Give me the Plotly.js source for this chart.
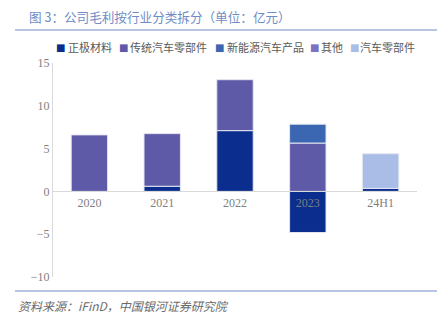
<!DOCTYPE html>
<html>
<head>
<meta charset="utf-8">
<script src="https://cdn.plot.ly/plotly-3.0.1.min.js"></script>
<style>html,body{margin:0;padding:0;background:#fff;}#chart{width:437px;height:322px;}</style>
</head>
<body>
<div id="chart"></div>
<script>
const categories = ['2020', '2021', '2022', '2023', '24H1'];
const seriesNames = ['正极材料', '传统汽车零部件', '新能源汽车产品', '其他', '汽车零部件'];
const cathode = [null, 0.6, 7.1, -4.8, 0.35];
const traditionalParts = [6.6, 6.15, 5.95, 5.65, null];
const nevProducts = [null, null, null, 2.2, null];
const others = [null, null, null, null, null];
const autoParts = [null, null, null, null, 4.05];
const yTicks = [-10, -5, 0, 5, 10, 15];
const chartTitle = '图 3：公司毛利按行业分类拆分（单位：亿元）';
const sourceNote = '资料来源：iFinD，中国银河证券研究院';

const seriesValues = [cathode, traditionalParts, nevProducts, others, autoParts];
const colors = ['#0b2e8e', '#5f5aa8', '#3b66b1', '#7d72c2', '#a9bde6'];
const legendSymbolX = [55, 118, 214, 309, 349];
const legendTextX = [66, 128, 225, 319, 358];

const L = 53, R = 20, T = 63, B = 45, W = 437, H = 322;
const pw = W - L - R, ph = H - T - B;
const px2x = p => (p - L) / pw;
const py2y = p => (H - B - p) / ph;

const traces = seriesValues.map((vals, i) => ({
  type: 'bar',
  name: seriesNames[i],
  x: categories,
  y: vals,
  marker: {color: colors[i], line: {color: '#e3e6f1', width: 1}},
  showlegend: false,
  hoverinfo: 'none'
}));

const cjk = 'Noto Sans CJK SC, sans-serif';
const annotations = [
  {text: chartTitle, xref: 'paper', yref: 'paper', x: px2x(27), y: py2y(16), xanchor: 'left', yanchor: 'middle', showarrow: false,
   font: {family: cjk, size: 12.6, color: '#6f8cc7'}},
  {text: sourceNote, xref: 'paper', yref: 'paper', x: px2x(16), y: py2y(305), xanchor: 'left', yanchor: 'middle', showarrow: false,
   font: {family: cjk, size: 12, color: '#6a6a6a', style: 'italic'}}
];
seriesNames.forEach((name, i) => {
  annotations.push({text: '■', xref: 'paper', yref: 'paper', x: px2x(legendSymbolX[i] - 1), y: py2y(47), xanchor: 'left', yanchor: 'middle', showarrow: false,
    font: {family: 'DejaVu Sans, sans-serif', size: 10, color: colors[i]}});
  annotations.push({text: name, xref: 'paper', yref: 'paper', x: px2x(legendTextX[i]), y: py2y(47), xanchor: 'left', yanchor: 'middle', showarrow: false,
    font: {family: cjk, size: 11, color: '#595959'}});
});

const layout = {
  width: W, height: H,
  margin: {l: L, r: R, t: T, b: B},
  paper_bgcolor: '#ffffff',
  plot_bgcolor: '#ffffff',
  barmode: 'relative',
  bargap: 0.5,
  showlegend: false,
  xaxis: {
    type: 'category',
    anchor: 'free',
    position: 10 / 25,
    showline: true, linecolor: '#d9d9d9', linewidth: 1,
    showgrid: false, zeroline: false, ticks: '',
    tickfont: {family: 'Liberation Serif, serif', size: 12, color: '#7f7f7f'}
  },
  yaxis: {
    range: [-10, 15],
    tickvals: yTicks,
    showline: true, linecolor: '#d9d9d9', linewidth: 1,
    showgrid: false, zeroline: false, ticks: '',
    tickfont: {family: 'Liberation Serif, serif', size: 12, color: '#7f7f7f'}
  },
  shapes: [
    {type: 'line', xref: 'paper', yref: 'paper', x0: px2x(15), x1: px2x(437), y0: py2y(30), y1: py2y(30), line: {color: '#9fb2d8', width: 1.5}},
    {type: 'line', xref: 'paper', yref: 'paper', x0: px2x(15), x1: px2x(437), y0: py2y(291), y1: py2y(291), line: {color: '#9fb2d8', width: 1.5}}
  ],
  annotations: annotations
};

Plotly.newPlot('chart', traces, layout, {displayModeBar: false, staticPlot: true});
</script>
</body>
</html>
